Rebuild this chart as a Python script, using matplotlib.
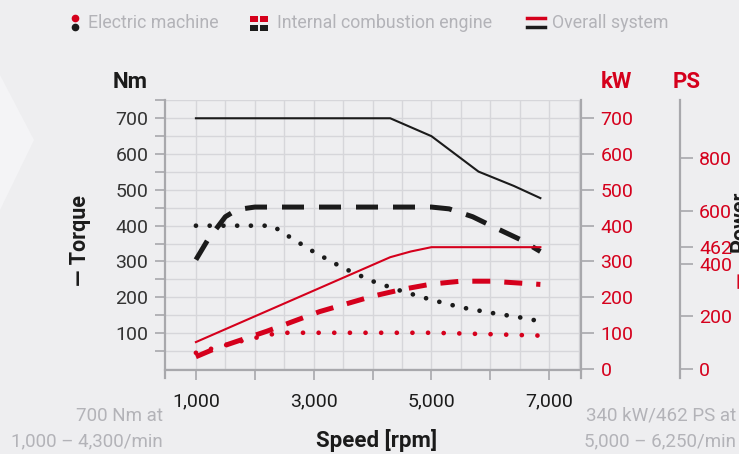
import matplotlib
matplotlib.use("Agg")
import matplotlib.pyplot as plt
from matplotlib.patches import Polygon, Rectangle
from matplotlib.lines import Line2D

plt.rcParams['font.family'] = ['Roboto', 'DejaVu Sans']

RED = '#d5001c'
BLACK = '#1b1b1b'
GREY = '#b3b3b8'
BG = '#eeeef0'

# torque [Nm]
rpm_total_t = [1000, 4300, 5000, 5800, 6400, 6850]
total_torque = [700, 700, 650, 551, 511, 477]
rpm_ice_t = [1000, 1200, 1500, 1700, 2000, 5000, 5300, 5700, 6100, 6500, 6850]
ice_torque = [305, 360, 425, 445, 452, 452, 447, 425, 393, 362, 328]
rpm_em_t = [1000, 2300, 2500, 3000, 3500, 4000, 4500, 5000, 5500, 6000, 6500, 6850]
em_torque = [400, 400, 378, 327, 282, 245, 217, 193, 172, 157, 144, 133]

# power [kW]
rpm_total_p = [1000, 4300, 4650, 5000, 6850]
total_power = [75, 312, 328, 340, 340]
rpm_ice_p = [1000, 1300, 2200, 3100, 4000, 4500, 5000, 5500, 6000, 6850]
ice_power = [34, 55, 105, 160, 203, 222, 237, 245, 245, 236]
rpm_em_p = [1000, 1300, 1900, 2300, 2500, 5000, 6000, 6850]
em_power = [45, 58, 83, 97, 101, 101, 97, 93]

x_ticks = [1000, 2000, 3000, 4000, 5000, 6000, 7000]
x_labels = ['1,000', '', '3,000', '', '5,000', '', '7,000']
nm_ticks = [100, 200, 300, 400, 500, 600, 700]
kw_ticks = [0, 100, 200, 300, 400, 500, 600, 700]
ps_ticks = [0, 200, 400, 462, 600, 800]

W, H = 739, 454
fig = plt.figure(figsize=(W / 100, H / 100), dpi=100)
fig.patch.set_facecolor(BG)

# faint chevron in the background
fig.patches.append(Polygon([(0, 1 - 75 / H), (34 / W, 1 - 140 / H), (0, 1 - 210 / H)],
                           closed=True, transform=fig.transFigure,
                           facecolor='#f4f4f6', edgecolor='none', zorder=0))

ax = fig.add_axes([165 / W, 1 - 370 / H, 416 / W, 270 / H])
ax.set_facecolor(BG)
ax.set_xlim(475, 7540)
ax.set_ylim(-3, 751)

for v in range(0, 751, 50):
    ax.axhline(v, color='#d6d6da', lw=1, zorder=0)
for v in range(1000, 7600, 500):
    ax.axvline(v, color='#d6d6da', lw=1, zorder=0)

ax.plot(rpm_total_t, total_torque, color=BLACK, lw=1.5, zorder=3)
ax.plot(rpm_ice_t, ice_torque, color=BLACK, lw=3.6, dashes=(4.4, 3.0), zorder=3)
ax.plot(rpm_em_t, em_torque, color=BLACK, lw=3.4, dashes=(0.01, 2.9),
        dash_capstyle='round', zorder=3)
ax.plot(rpm_total_p, total_power, color=RED, lw=1.5, zorder=3)
ax.plot(rpm_ice_p, ice_power, color=RED, lw=3.6, dashes=(3.6, 2.8), zorder=3)
ax.plot(rpm_em_p, em_power, color=RED, lw=3.4, dashes=(0.01, 3.3),
        dash_capstyle='round', zorder=3)

ax.spines['top'].set_visible(False)
for s in ['left', 'right', 'bottom']:
    ax.spines[s].set_color('#a8a8ac')
    ax.spines[s].set_linewidth(1.6)
ax.spines['left'].set_bounds(-25, 751)
ax.spines['right'].set_bounds(-25, 751)

ax.set_xticks(x_ticks)
ax.set_xticklabels(x_labels)
ax.tick_params(axis='x', direction='out', length=7, width=1.2, color='#a8a8ac',
               labelsize=14, labelcolor=BLACK, pad=9)
ax.set_yticks(nm_ticks)
ax.set_yticks(range(50, 751, 50), minor=True)
ax.tick_params(axis='y', which='both', direction='out', length=7, width=1.2,
               color='#a8a8ac', labelsize=14, labelcolor='#333333', pad=5)

ax2 = ax.twinx()
ax2.set_ylim(ax.get_ylim())
for s in ['top', 'left', 'bottom', 'right']:
    ax2.spines[s].set_visible(False)
ax2.set_yticks(kw_ticks)
ax2.tick_params(axis='y', direction='out', length=9, width=1.2, color='#a8a8ac',
                labelsize=14, labelcolor=RED, pad=5)

ax3 = ax.twinx()
ax3.set_ylim(ax.get_ylim()[0] * 1.35962, ax.get_ylim()[1] * 1.35962)
for s in ['top', 'left', 'bottom']:
    ax3.spines[s].set_visible(False)
ax3.spines['right'].set_position(('outward', 71))
ax3.spines['right'].set_color('#a8a8ac')
ax3.spines['right'].set_linewidth(1.6)
ax3.spines['right'].set_bounds(-34, 1021)
ax3.set_yticks(ps_ticks)
ax3.tick_params(axis='y', direction='out', length=9, width=1.2, color='#a8a8ac',
                labelsize=14, labelcolor=RED, pad=5)


def ft(x, y, s, **kw):
    fig.text(x / W, 1 - y / H, s, **kw)


# unit labels
ft(130, 82, 'Nm', ha='center', va='center', fontsize=16, fontweight='bold', color=BLACK)
ft(616, 82, 'kW', ha='center', va='center', fontsize=16, fontweight='bold', color=RED)
ft(687, 82, 'PS', ha='center', va='center', fontsize=16, fontweight='bold', color=RED)

# axis titles
ft(80, 240, '— Torque', ha='center', va='center', rotation=90, fontsize=15.5,
   fontweight='bold', color=BLACK)
ft(740, 252, 'Power', ha='center', va='bottom', rotation=90, fontsize=15.5,
   fontweight='bold', color=BLACK)
ft(740, 280, '—', ha='center', va='center', rotation=90, fontsize=15.5,
   fontweight='bold', color=RED)
ft(377, 441, 'Speed [rpm]', ha='center', va='center', fontsize=16,
   fontweight='bold', color=BLACK)

# footnotes
ft(163, 416, '700 Nm at', ha='right', va='center', fontsize=13.5, color=GREY)
ft(163, 441, '1,000 – 4,300/min', ha='right', va='center', fontsize=13.5, color=GREY)
ft(736, 416, '340 kW/462 PS at', ha='right', va='center', fontsize=13.5, color=GREY)
ft(736, 441, '5,000 – 6,250/min', ha='right', va='center', fontsize=13.5, color=GREY)

# legend
ft(88, 23, 'Electric machine', ha='left', va='center', fontsize=12.8, color=GREY)
ft(277, 23, 'Internal combustion engine', ha='left', va='center', fontsize=12.8, color=GREY)
ft(552, 23, 'Overall system', ha='left', va='center', fontsize=12.8, color=GREY)

fig.add_artist(Line2D([75 / W], [1 - 18 / H], marker='o', markersize=4.5,
                      color=RED, transform=fig.transFigure))
fig.add_artist(Line2D([75 / W], [1 - 27 / H], marker='o', markersize=4.5,
                      color=BLACK, transform=fig.transFigure))
for x0 in (250, 260):
    fig.patches.append(Rectangle((x0 / W, 1 - 22 / H), 8 / W, 6 / H, transform=fig.transFigure,
                                 facecolor=RED, edgecolor='none'))
    fig.patches.append(Rectangle((x0 / W, 1 - 31 / H), 8 / W, 6 / H, transform=fig.transFigure,
                                 facecolor=BLACK, edgecolor='none'))
fig.add_artist(Line2D([527 / W, 545 / W], [1 - 18 / H, 1 - 18 / H], lw=2.5,
                      color=RED, transform=fig.transFigure))
fig.add_artist(Line2D([527 / W, 545 / W], [1 - 27 / H, 1 - 27 / H], lw=2.5,
                      color=BLACK, transform=fig.transFigure))

fig.savefig('out.png', dpi=100, facecolor=BG)
